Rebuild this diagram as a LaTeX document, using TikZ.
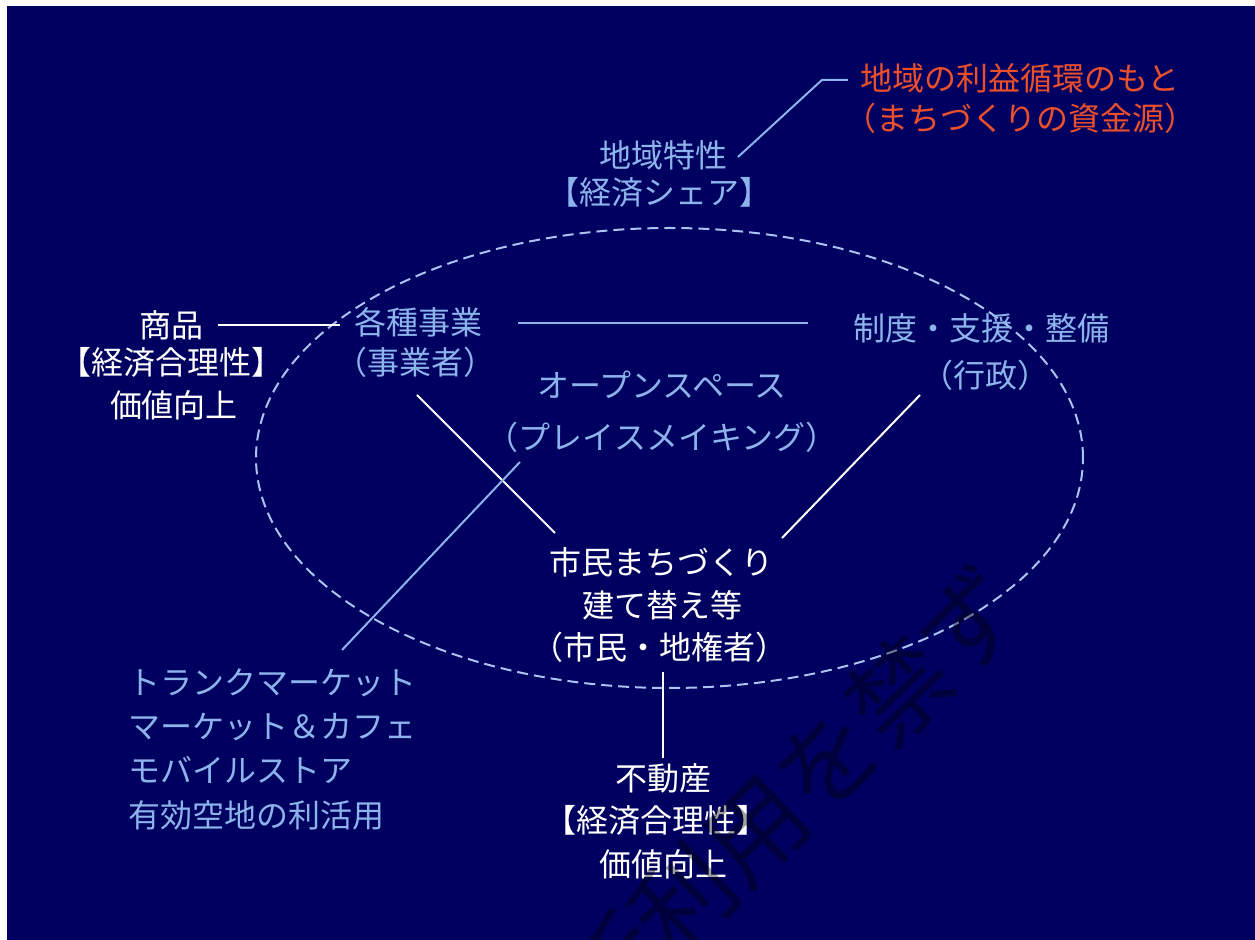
\documentclass[tikz,border=0pt]{standalone}
\usepackage{fontspec}
\setmainfont{Noto Sans CJK JP}
\definecolor{bg}{RGB}{0,0,96}
\definecolor{lb}{RGB}{140,180,235}
\definecolor{rd}{RGB}{235,80,45}
\definecolor{dsh}{RGB}{170,195,240}
\begin{document}
\begin{tikzpicture}[x=0.5pt,y=-0.5pt,
  txt/.style={inner sep=0pt, font=\fontsize{16}{20}\selectfont},
  wt/.style={txt,text=white},
  bt/.style={txt,text=lb},
  rt/.style={txt,text=rd},
  wline/.style={draw=white,line width=1pt},
  bline/.style={draw=lb,line width=1pt},
  ring/.style={draw=dsh,line width=1pt,dash pattern=on 5.5pt off 3pt},
  wmark/.style={inner sep=0pt,font=\fontsize{50}{50}\selectfont,text=black,opacity=0.37,rotate=44}]
\fill[white] (0,0) rectangle (1255,940);
\fill[bg] (7,6) rectangle (1255,940);
\useasboundingbox (0,0) rectangle (1255,940);
% dashed ellipse
\draw[ring] (669.5,458) ellipse [x radius=206.75pt, y radius=115pt];
% texts
\node[rt] (r1) at (1020,78) {地域の利益循環のもと};
\node[rt] (r2) at (1020,118) {（まちづくりの資金源）};
\node[bt] (c1) at (663,155) {地域特性};
\node[bt] (c2) at (659,192) {【経済シェア】};
\node[wt] (s1) at (171,325) {商品};
\node[wt] (s2) at (172,362) {【経済合理性】};
\node[wt] (s3) at (174,405) {価値向上};
\node[bt] (j1) at (418,322) {各種事業};
\node[bt] (j2) at (415,362) {（事業者）};
\node[bt] (g1) at (981,328) {制度・支援・整備};
\node[bt] (g2) at (985,375) {（行政）};
\node[bt] (o1) at (662,385) {オープンスペース};
\node[bt] (o2) at (662,437) {（プレイスメイキング）};
\node[wt] (m1) at (661,562) {市民まちづくり};
\node[wt] (m2) at (662,605) {建て替え等};
\node[wt] (m3) at (659,647) {（市民・地権者）};
\node[wt] (f1) at (663,778) {不動産};
\node[wt] (f2) at (656,820) {【経済合理性】};
\node[wt] (f3) at (663,864) {価値向上};
\node[bt,anchor=west] (l1) at (128,683) {トランクマーケット};
\node[bt,anchor=west] (l2) at (128,727) {マーケット＆カフェ};
\node[bt,anchor=west] (l3) at (128,770) {モバイルストア};
\node[bt,anchor=west] (l4) at (128,815) {有効空地の利活用};
% connectors
\draw[bline] ([shift={(-12,2)}]r1.west) -- ++(-26,0) -- ([shift={(75,2)}]c1.center);
\draw[wline] ([shift={(15,0)}]s1.east) -- ([shift={(-14,3)}]j1.west);
\draw[bline] ([shift={(36,1)}]j1.east) -- ([shift={(-45,-5)}]g1.west);
\draw[wline] ([shift={(2,33)}]j2.center) -- ([shift={(-106,-29)}]m1.center);
\draw[bline] ([shift={(-142,25)}]o2.center) -- ([shift={(214,-33)}]l1.west);
\draw[wline] ([shift={(-65,20)}]g2.center) -- ([shift={(121,-24)}]m1.center);
\draw[wline] ([shift={(4,25)}]m3.center) -- ([shift={(0,-20)}]f1.center);
% watermark
\node[wmark] (wm) at (755,830) {無断利用を禁ず};
\end{tikzpicture}
\end{document}
